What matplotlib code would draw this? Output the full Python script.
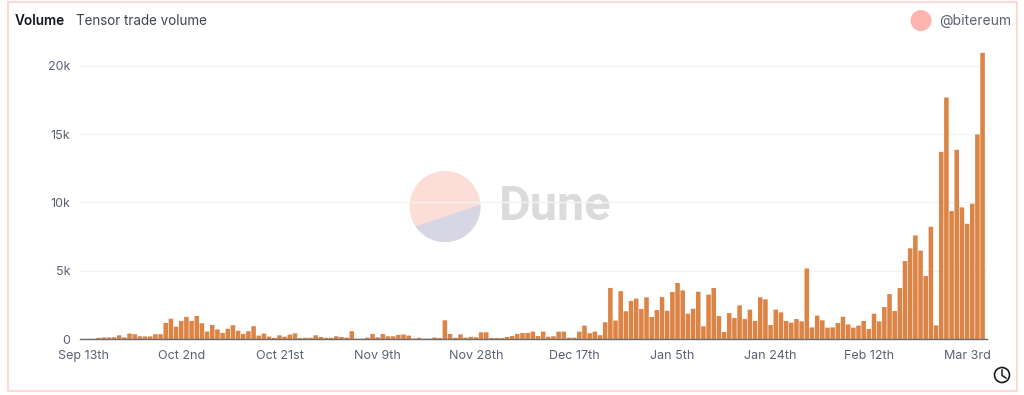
import numpy as np
import matplotlib
matplotlib.use('Agg')
import matplotlib.pyplot as plt
from matplotlib.patches import Circle, Polygon, Rectangle

plt.rcParams['font.family'] = ['Inter', 'DejaVu Sans']

#---- data
volume_1 = [5, 5, 15, 80, 120, 120, 130, 270, 120, 400, 350, 200, 190, 190, 350, 350,
            1180, 1480, 900, 1320, 1620, 1330, 1690, 1150, 550, 1030, 700, 450, 750, 1010,
            600, 370, 570, 940, 250, 400, 180, 80, 270, 170, 320, 420, 70, 90, 90, 270,
            150, 90, 90, 200, 150, 100, 570]
volume_2 = [20, 20, 100, 370, 120, 370, 200, 200, 300, 330, 250, 30, 90, 20, 30, 110, 70,
            1370, 370, 90, 340, 100, 160, 130, 490, 490, 70, 70, 70, 150, 220, 370, 440,
            440, 540, 220, 540, 170, 200, 540, 540, 100, 100, 540, 980, 420, 540, 280,
            1230, 3740, 1350, 3500, 2030, 2790, 2960, 2200]
volume_3 = [3050, 1610, 2120, 3070, 2070, 3440, 4100, 3560, 1850, 2220, 3460, 930, 3250,
            3730, 1680, 510, 1900, 1540, 2460, 1460, 2150, 1320, 3050, 2900, 1020, 2150,
            1950, 1320, 1200, 1460, 1290, 5170, 850, 1710, 1370]
volume_4 = [830, 850, 1170, 1630, 1070, 830, 980, 1320, 730, 1850, 1290, 2340, 3290, 2050,
            3730, 5710, 6640, 7590, 6470, 4610, 8220, 1000, 13710, 17690, 9370, 13860,
            9640, 8440, 9910, 14980, 20960]
volume = np.array(volume_1 + volume_2 + volume_3 + volume_4)

date_labels = ['Sep 13th', 'Oct 2nd', 'Oct 21st', 'Nov 9th', 'Nov 28th', 'Dec 17th',
               'Jan 5th', 'Jan 24th', 'Feb 12th', 'Mar 3rd']
y_ticks = [0, 5000, 10000, 15000, 20000]
y_labels = ['0', '5k', '10k', '15k', '20k']

W, H = 1024, 395
bar_color = '#DB8445'
text_color = '#5A6270'

fig = plt.figure(figsize=(W / 100, H / 100), dpi=100, facecolor='white')

#---- pixel space layer for the frame, watermark, header
deco = fig.add_axes([0, 0, 1, 1], zorder=0)
deco.set_xlim(0, W)
deco.set_ylim(H, 0)
deco.axis('off')
deco.add_patch(Rectangle((7.5, 2), 1009.5, 388.5, fill=False, ec='#FDD8D5', lw=1.5))

# logo: circle cut by a chord
deco.add_patch(Circle((445, 206.5), 35.5, fc='#FCDDD7', ec='none'))
angles = np.radians(np.linspace(3, -146, 80))
deco.add_patch(Polygon(np.c_[445 + 35.5 * np.cos(angles), 206.5 - 35.5 * np.sin(angles)],
                       closed=True, fc='#D6D6E4', ec='none'))
deco.text(499, 207, 'Dune', fontsize=35, fontweight='bold', color='#DBDBDB',
          family=['Roboto', 'DejaVu Sans'], ha='left', va='center')

deco.text(15, 21, 'Volume', fontsize=9.8, fontweight='semibold', color='#14171F', ha='left', va='center')
deco.text(76, 21, 'Tensor trade volume', fontsize=9.7, color='#3F4550', ha='left', va='center')
deco.add_patch(Circle((921, 20.5), 10.5, fc='#FFB4AF', ec='none'))
deco.text(939, 21, '@bitereum', fontsize=10, color=text_color, ha='left', va='center')

# clock icon
deco.add_patch(Circle((1002, 375), 7.5, fill=False, ec='#1A1A1A', lw=1.2))
deco.plot([1002, 1002, 1006], [370, 375.5, 378], color='#1A1A1A', lw=1.1)

#---- chart
ax = fig.add_axes([80 / W, (H - 339) / H, 907 / W, (339 - 52.3) / H], zorder=1)
ax.patch.set_alpha(0)
x = np.arange(len(volume))
ax.bar(x, volume, width=0.88, color=bar_color, zorder=3, snap=False)
ax.set_xlim(-3 / 5.17, 904 / 5.17)
ax.set_ylim(0, 21000)

ax.set_xticks(np.arange(len(date_labels)) * 19)
ax.set_xticklabels(date_labels)
ax.set_yticks(y_ticks)
ax.set_yticklabels(y_labels)
ax.tick_params(axis='both', length=0, labelsize=9, labelcolor=text_color)
ax.tick_params(axis='x', pad=8)
ax.tick_params(axis='y', pad=7)
ax.grid(axis='y', color='#F3F3F3', lw=1, zorder=0)
ax.set_axisbelow(True)
for side in ['top', 'right', 'left']:
    ax.spines[side].set_visible(False)
ax.spines['bottom'].set_color('#6A6D72')
ax.spines['bottom'].set_linewidth(1)
ax.spines['bottom'].set_zorder(4)

fig.savefig('out.png', dpi=100)
